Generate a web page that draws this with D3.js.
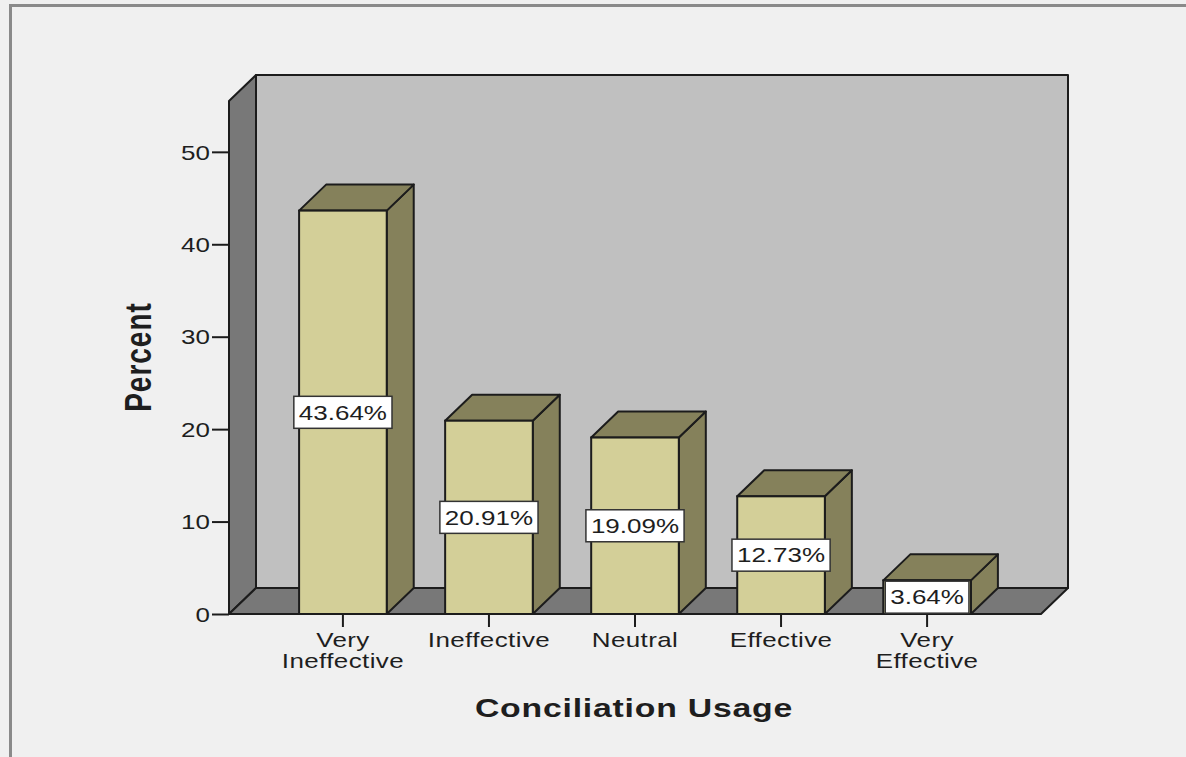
<!DOCTYPE html>
<html>
<head>
<meta charset="utf-8">
<script src="https://cdn.jsdelivr.net/npm/d3@7"></script>
<style>
  html, body { margin: 0; padding: 0; background: #f0f0f0; }
  svg { display: block; }
  text { font-family: "Liberation Sans", Arial, sans-serif; fill: #1e1e1e; }
</style>
</head>
<body>
<svg id="chart" width="1186" height="757"></svg>
<script>
// Conciliation usage ratings, percent of respondents
const categories = ["Very Ineffective", "Ineffective", "Neutral", "Effective", "Very Effective"];
const categoryLines = [["Very", "Ineffective"], ["Ineffective"], ["Neutral"], ["Effective"], ["Very", "Effective"]];
const percents = [43.64, 20.91, 19.09, 12.73, 3.64];
const yTicks = [0, 10, 20, 30, 40, 50];

const svg = d3.select("#chart");
const W = 1186, H = 757;

// Horizontal stretch applied to glyphs
const SX = 1.3;

// Plot frame (front plane) and the depth offset of the 3D box
const plotLeft = 229, plotRight = 1041, plotBottom = 614, plotTop = 101;
const DX = 27, DY = -26;

const x = d3.scaleBand()
  .domain(categories)
  .range([plotLeft, plotRight])
  .paddingInner(0.4)
  .paddingOuter(0.48);

const y = d3.scaleLinear()
  .domain([0, 55.5])
  .range([plotBottom, plotTop]);

const C = {
  bg: "#f0f0f0",
  back: "#c0c0c0",
  wall: "#787878",
  front: "#d3cf98",
  shade: "#85815b",
  edge: "#1c1c1c"
};

// background and outer frame
svg.append("rect").attr("width", W).attr("height", H).attr("fill", C.bg);
svg.append("path")
  .attr("d", `M10.5,${H} L10.5,5.5 L${W},5.5`)
  .attr("fill", "none").attr("stroke", "#8a8a8a").attr("stroke-width", 3);

const poly = pts => "M" + pts.map(p => p.join(",")).join("L") + "Z";

// back wall
svg.append("path")
  .attr("d", poly([[plotLeft + DX, plotTop + DY], [plotRight + DX, plotTop + DY], [plotRight + DX, plotBottom + DY], [plotLeft + DX, plotBottom + DY]]))
  .attr("fill", C.back).attr("stroke", C.edge).attr("stroke-width", 2).attr("stroke-linejoin", "round");

// left side wall
svg.append("path")
  .attr("d", poly([[plotLeft, plotTop], [plotLeft + DX, plotTop + DY], [plotLeft + DX, plotBottom + DY], [plotLeft, plotBottom]]))
  .attr("fill", C.wall).attr("stroke", C.edge).attr("stroke-width", 2).attr("stroke-linejoin", "round");

// floor
svg.append("path")
  .attr("d", poly([[plotLeft, plotBottom], [plotLeft + DX, plotBottom + DY], [plotRight + DX, plotBottom + DY], [plotRight, plotBottom]]))
  .attr("fill", C.wall).attr("stroke", C.edge).attr("stroke-width", 2).attr("stroke-linejoin", "round");

// y axis
const yAxis = svg.append("g")
  .attr("transform", `translate(${plotLeft},0)`)
  .call(d3.axisLeft(y).tickValues(yTicks).tickSize(17).tickPadding(2).tickFormat(d3.format("d")));
yAxis.select(".domain").remove();
yAxis.selectAll(".tick line").attr("stroke", C.edge).attr("stroke-width", 2);
yAxis.selectAll(".tick text")
  .attr("font-size", 20)
  .attr("font-family", "Liberation Sans, Arial, sans-serif")
  .attr("fill", "#1e1e1e")
  .attr("dy", "0.36em")
  .each(function () {
    const t = d3.select(this);
    const xx = +t.attr("x");
    t.attr("x", null).attr("transform", `translate(${xx},0) scale(${SX},1)`);
  });

// x axis ticks
const xAxis = svg.append("g")
  .attr("transform", `translate(0,${plotBottom})`)
  .call(d3.axisBottom(x).tickSize(13).tickFormat(""));
xAxis.select(".domain").remove();
xAxis.selectAll(".tick line").attr("stroke", C.edge).attr("stroke-width", 2);

// category labels
categories.forEach((c, i) => {
  const cx = x(c) + x.bandwidth() / 2;
  const g = svg.append("g").attr("transform", `translate(${cx},0) scale(${SX},1)`);
  categoryLines[i].forEach((line, j) => {
    g.append("text")
      .attr("x", 0).attr("y", 647 + j * 21)
      .attr("text-anchor", "middle")
      .attr("font-size", 20)
      .attr("letter-spacing", 0.3)
      .text(line);
  });
});

// bars (front face, top face, right side face)
const bars = svg.append("g");
categories.forEach((c, i) => {
  const x0 = x(c), x1 = x0 + x.bandwidth();
  const yt = y(percents[i]), yb = y(0);
  const g = bars.append("g");
  g.append("path")
    .attr("d", poly([[x1, yb], [x1 + DX, yb + DY], [x1 + DX, yt + DY], [x1, yt]]))
    .attr("fill", C.shade).attr("stroke", C.edge).attr("stroke-width", 2).attr("stroke-linejoin", "round");
  g.append("path")
    .attr("d", poly([[x0, yt], [x0 + DX, yt + DY], [x1 + DX, yt + DY], [x1, yt]]))
    .attr("fill", C.shade).attr("stroke", C.edge).attr("stroke-width", 2).attr("stroke-linejoin", "round");
  g.append("rect")
    .attr("x", x0).attr("y", yt).attr("width", x1 - x0).attr("height", yb - yt)
    .attr("fill", C.front).attr("stroke", C.edge).attr("stroke-width", 2);
});

// value labels centred on the front face
const fmt = v => v.toFixed(2) + "%";
categories.forEach((c, i) => {
  const cx = x(c) + x.bandwidth() / 2;
  const cy = (y(percents[i]) + y(0)) / 2;
  const g = svg.append("g").attr("transform", `translate(${cx},${cy})`);
  const r = g.append("rect");
  const t = g.append("text")
    .attr("text-anchor", "middle")
    .attr("dy", "0.36em")
    .attr("font-size", 20)
    .attr("transform", `scale(${SX},1)`)
    .text(fmt(percents[i]));
  const w = t.node().getBBox().width * SX + 10;
  const h = 32;
  r.attr("x", -w / 2).attr("y", -h / 2).attr("width", w).attr("height", h)
    .attr("fill", "#ffffff").attr("stroke", "#333").attr("stroke-width", 1.5);
});

// axis titles
svg.append("text")
  .attr("transform", `translate(634,717) scale(${SX},1)`)
  .attr("text-anchor", "middle")
  .attr("font-size", 26)
  .attr("font-weight", "bold")
  .attr("letter-spacing", 0.6)
  .text("Conciliation Usage");

svg.append("text")
  .attr("transform", `translate(151,357) scale(${SX},1) rotate(-90)`)
  .attr("text-anchor", "middle")
  .attr("font-size", 28)
  .attr("font-weight", "bold")
  .attr("letter-spacing", 1)
  .text("Percent");
</script>
</body>
</html>
